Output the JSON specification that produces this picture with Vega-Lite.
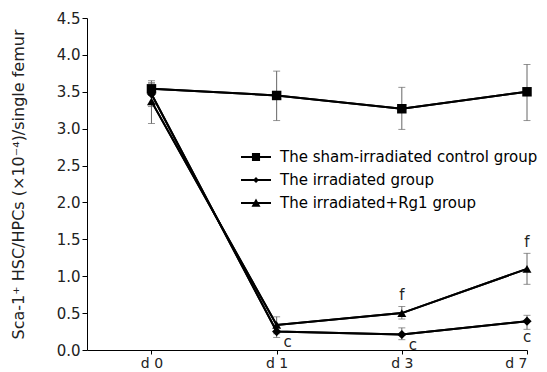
{
  "$schema": "https://vega.github.io/schema/vega-lite/v6.json",
  "width": 440,
  "height": 332,
  "autosize": {"type": "none"},
  "padding": {"left": 87, "top": 18, "right": 20, "bottom": 22},
  "background": "white",
  "config": {
    "view": {"stroke": null},
    "font": "DejaVu Sans",
    "axis": {"grid": false, "domainColor": "#000", "tickColor": "#000", "labelFont": "DejaVu Sans", "labelFontSize": 15, "labelColor": "#222", "labelOverlap": false, "titleFont": "DejaVu Sans", "titleFontWeight": "normal", "titleColor": "#222"}
  },
  "datasets": {
    "series": [
      {"group": "The sham-irradiated control group", "t": 0, "mean": 3.54, "lo": 3.45, "hi": 3.65},
      {"group": "The sham-irradiated control group", "t": 1, "mean": 3.45, "lo": 3.11, "hi": 3.78},
      {"group": "The sham-irradiated control group", "t": 2, "mean": 3.27, "lo": 2.99, "hi": 3.56},
      {"group": "The sham-irradiated control group", "t": 3, "mean": 3.50, "lo": 3.11, "hi": 3.87},
      {"group": "The irradiated group", "t": 0, "mean": 3.47, "lo": 3.30, "hi": 3.62},
      {"group": "The irradiated group", "t": 1, "mean": 0.25, "lo": 0.17, "hi": 0.33},
      {"group": "The irradiated group", "t": 2, "mean": 0.21, "lo": 0.14, "hi": 0.30},
      {"group": "The irradiated group", "t": 3, "mean": 0.39, "lo": 0.28, "hi": 0.47},
      {"group": "The irradiated+Rg1 group", "t": 0, "mean": 3.37, "lo": 3.07, "hi": 3.62},
      {"group": "The irradiated+Rg1 group", "t": 1, "mean": 0.34, "lo": 0.22, "hi": 0.45},
      {"group": "The irradiated+Rg1 group", "t": 2, "mean": 0.50, "lo": 0.42, "hi": 0.59},
      {"group": "The irradiated+Rg1 group", "t": 3, "mean": 1.10, "lo": 0.89, "hi": 1.31}
    ],
    "notesC": [
      {"t": 1, "mean": 0.25, "label": "c"},
      {"t": 2, "mean": 0.21, "label": "c"}
    ],
    "notesC7": [
      {"t": 3, "mean": 0.39, "label": "c"}
    ],
    "notesF": [
      {"t": 2, "hi": 0.59, "label": "f"},
      {"t": 3, "hi": 1.31, "label": "f"}
    ]
  },
  "layer": [
    {
      "data": {"name": "series"},
      "mark": {"type": "line", "color": "#000", "strokeWidth": 2},
      "encoding": {
        "x": {"field": "t", "type": "quantitative", "scale": {"domain": [-0.515, 3], "nice": false, "zero": false},
          "axis": {"values": [0, 1, 2, 3], "labelExpr": "['d 0','d 1','d 3','d 7'][datum.value]", "title": null, "labelPadding": 2, "tickSize": 4, "labelFontSize": 14}},
        "y": {"field": "mean", "type": "quantitative", "scale": {"domain": [0, 4.5], "nice": false},
          "axis": {"values": [0, 0.5, 1, 1.5, 2, 2.5, 3, 3.5, 4, 4.5], "tickCount": 10, "format": ".1f", "title": "Sca-1⁺ HSC/HPCs (×10⁻⁴)/single femur", "titleFontSize": 16, "titlePadding": 30, "tickSize": 5}},
        "detail": {"field": "group"}
      }
    },
    {
      "data": {"name": "series"},
      "mark": {"type": "rule", "color": "#666", "strokeWidth": 1},
      "encoding": {
        "x": {"field": "t", "type": "quantitative"},
        "y": {"field": "lo", "type": "quantitative"},
        "y2": {"field": "hi"}
      }
    },
    {
      "data": {"name": "series"},
      "mark": {"type": "tick", "orient": "horizontal", "size": 7, "thickness": 1, "color": "#666"},
      "encoding": {
        "x": {"field": "t", "type": "quantitative"},
        "y": {"field": "lo", "type": "quantitative"}
      }
    },
    {
      "data": {"name": "series"},
      "mark": {"type": "tick", "orient": "horizontal", "size": 7, "thickness": 1, "color": "#666"},
      "encoding": {
        "x": {"field": "t", "type": "quantitative"},
        "y": {"field": "hi", "type": "quantitative"}
      }
    },
    {
      "data": {"name": "series"},
      "mark": {"type": "line", "color": "#000", "strokeWidth": 2},
      "encoding": {
        "x": {"field": "t", "type": "quantitative"},
        "y": {"field": "mean", "type": "quantitative"},
        "detail": {"field": "group"}
      }
    },
    {
      "data": {"name": "series"},
      "mark": {"type": "point", "filled": true, "color": "#000", "opacity": 1},
      "encoding": {
        "x": {"field": "t", "type": "quantitative"},
        "y": {"field": "mean", "type": "quantitative"},
        "shape": {"field": "group", "type": "nominal",
          "scale": {"domain": ["The sham-irradiated control group", "The irradiated group", "The irradiated+Rg1 group"], "range": ["square", "diamond", "triangle-up"]},
          "legend": null},
        "size": {"field": "group", "type": "nominal",
          "scale": {"domain": ["The sham-irradiated control group", "The irradiated group", "The irradiated+Rg1 group"], "range": [90, 80, 100]},
          "legend": null}
      }
    },
    {
      "data": {"name": "series"},
      "transform": [{"filter": "datum.t == 0"}],
      "mark": {"type": "point", "filled": true, "color": "#000", "opacity": 0, "size": 900},
      "encoding": {
        "x": {"field": "t", "type": "quantitative"},
        "y": {"field": "mean", "type": "quantitative"},
        "shape": {"field": "group", "type": "nominal",
          "scale": {"domain": ["The sham-irradiated control group", "The irradiated group", "The irradiated+Rg1 group"],
            "range": [
              "M-1,-0.065H1V0.065H-1Z M-0.27,-0.27H0.27V0.27H-0.27Z",
              "M-1,-0.065H1V0.065H-1Z M0,-0.2L0.2,0L0,0.2L-0.2,0Z",
              "M-1,-0.065H1V0.065H-1Z M0,-0.3L0.3,0.25L-0.3,0.25Z"
            ]},
          "legend": {"title": null, "orient": "none", "legendX": 154, "legendY": 124, "padding": 0,
            "symbolSize": 900, "symbolStrokeWidth": 0, "symbolFillColor": "#000", "symbolOpacity": 1,
            "labelFontSize": 15, "labelColor": "#000", "labelFont": "DejaVu Sans", "labelLimit": 400, "labelOffset": 9, "rowPadding": -1,
            "encode": {"symbols": {"update": {"opacity": {"value": 1}, "fill": {"value": "#000"}}}}}
        }
      }
    },
    {
      "data": {"name": "notesC"},
      "mark": {"type": "text", "fontSize": 15, "dx": 11, "dy": 10, "color": "#222"},
      "encoding": {
        "x": {"field": "t", "type": "quantitative"},
        "y": {"field": "mean", "type": "quantitative"},
        "text": {"field": "label"}
      }
    },
    {
      "data": {"name": "notesC7"},
      "mark": {"type": "text", "fontSize": 15, "dx": 0, "dy": 16, "color": "#222"},
      "encoding": {
        "x": {"field": "t", "type": "quantitative"},
        "y": {"field": "mean", "type": "quantitative"},
        "text": {"field": "label"}
      }
    },
    {
      "data": {"name": "notesF"},
      "mark": {"type": "text", "fontSize": 15, "dy": -11, "color": "#222"},
      "encoding": {
        "x": {"field": "t", "type": "quantitative"},
        "y": {"field": "hi", "type": "quantitative"},
        "text": {"field": "label"}
      }
    }
  ],
  "resolve": {"scale": {"shape": "independent", "size": "independent"}, "legend": {"shape": "independent"}}
}
